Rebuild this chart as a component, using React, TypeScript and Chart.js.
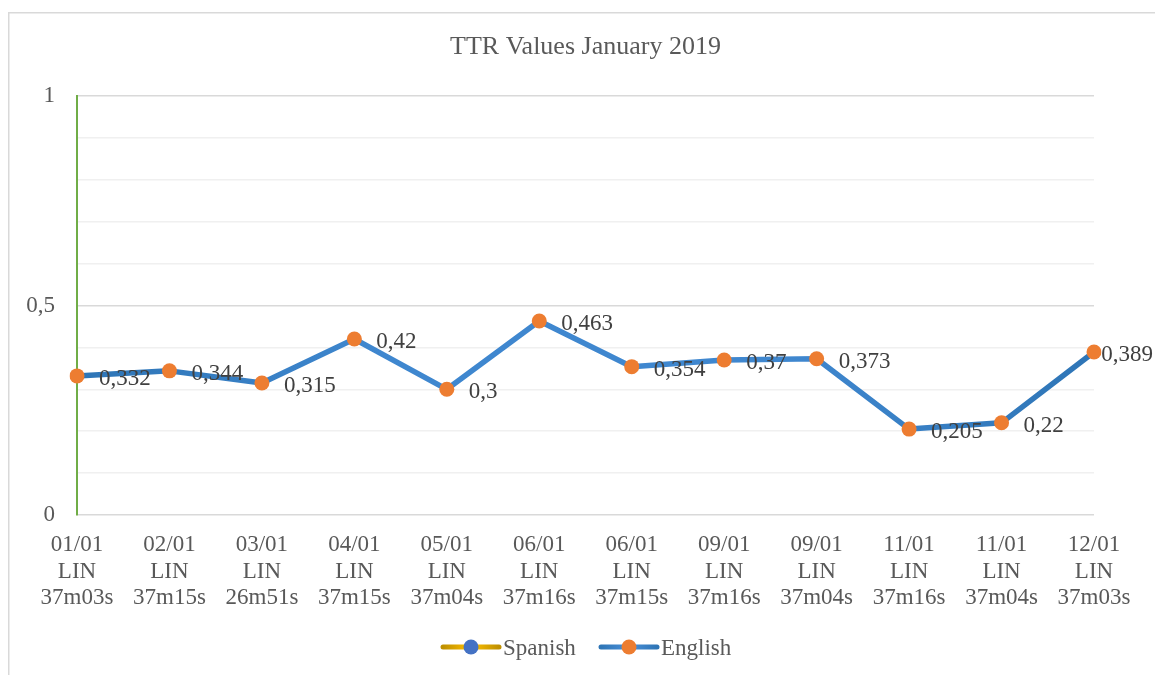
import React, { useEffect, useRef } from "react";
import { Chart, registerables } from "chart.js";

Chart.register(...registerables);

const dates = ["01/01", "02/01", "03/01", "04/01", "05/01", "06/01", "06/01", "09/01", "09/01", "11/01", "11/01", "12/01"];
const codes = ["LIN", "LIN", "LIN", "LIN", "LIN", "LIN", "LIN", "LIN", "LIN", "LIN", "LIN", "LIN"];
const durations = ["37m03s", "37m15s", "26m51s", "37m15s", "37m04s", "37m16s", "37m15s", "37m16s", "37m04s", "37m16s", "37m04s", "37m03s"];
const englishValues = [0.332, 0.344, 0.315, 0.42, 0.3, 0.463, 0.354, 0.37, 0.373, 0.205, 0.22, 0.389];
const spanishValues: (number | null)[] = [null, null, null, null, null, null, null, null, null, null, null, null];
const yLabelTicks = [0, 0.5, 1];
const titleText = "TTR Values January 2019";
const seriesNames = ["Spanish", "English"];

const FONT = '"Liberation Serif", "Times New Roman", serif';
const W = 1155;
const H = 675;

const fmt = (v: number) => String(Math.round(v * 1000) / 1000).replace(".", ",");

const decorPlugin = {
  id: "decor",
  beforeDraw(chart: any) {
    const ctx = chart.ctx;
    ctx.save();
    ctx.fillStyle = "#ffffff";
    ctx.fillRect(0, 0, W, H);
    ctx.strokeStyle = "#d9d9d9";
    ctx.lineWidth = 1.5;
    ctx.beginPath();
    ctx.moveTo(8.75, H);
    ctx.lineTo(8.75, 12.75);
    ctx.lineTo(W, 12.75);
    ctx.stroke();
    ctx.restore();
  },
  afterDraw(chart: any) {
    const ctx = chart.ctx;
    const area = chart.chartArea;
    ctx.save();
    // title
    ctx.fillStyle = "#595959";
    ctx.font = `26px ${FONT}`;
    ctx.textAlign = "center";
    ctx.textBaseline = "middle";
    ctx.fillText(titleText, (area.left + area.right) / 2, 47);

    // data labels
    const meta = chart.getDatasetMeta(1);
    ctx.font = `23px ${FONT}`;
    ctx.fillStyle = "#404040";
    ctx.textAlign = "left";
    ctx.textBaseline = "middle";
    meta.data.forEach((pt: any, i: number) => {
      const txt = fmt(englishValues[i]);
      const w = ctx.measureText(txt).width;
      const x = Math.min(pt.x + 22, W - 2 - w);
      ctx.fillText(txt, x, pt.y + 3);
    });

    // legend
    const ly = 647;
    const items = [
      { name: seriesNames[0], x0: 443, line: ["#BF9000", "#FFC000"], marker: "#4472C4" },
      { name: seriesNames[1], x0: 601, line: ["#2E75B6", "#4A90D9"], marker: "#ED7D31" },
    ];
    items.forEach((it) => {
      const g = ctx.createLinearGradient(it.x0, 0, it.x0 + 56, 0);
      g.addColorStop(0, it.line[0]);
      g.addColorStop(0.5, it.line[1]);
      g.addColorStop(1, it.line[0]);
      ctx.strokeStyle = g;
      ctx.lineWidth = 5;
      ctx.lineCap = "round";
      ctx.beginPath();
      ctx.moveTo(it.x0, ly);
      ctx.lineTo(it.x0 + 56, ly);
      ctx.stroke();
      ctx.fillStyle = it.marker;
      ctx.beginPath();
      ctx.arc(it.x0 + 28, ly, 7.5, 0, Math.PI * 2);
      ctx.fill();
      ctx.fillStyle = "#595959";
      ctx.font = `23px ${FONT}`;
      ctx.textAlign = "left";
      ctx.textBaseline = "middle";
      ctx.fillText(it.name, it.x0 + 60, ly + 2);
    });
    ctx.restore();
  },
};

export default function App() {
  const ref = useRef<HTMLCanvasElement | null>(null);
  useEffect(() => {
    if (!ref.current) return;
    const labels = dates.map((d, i) => [d, codes[i], durations[i]]);
    const chart = new Chart(ref.current, {
      type: "line",
      data: {
        labels,
        datasets: [
          {
            label: seriesNames[0],
            data: spanishValues,
            borderColor: "#BF9000",
            backgroundColor: "#4472C4",
            borderWidth: 5,
            pointRadius: 7.5,
          },
          {
            label: seriesNames[1],
            data: englishValues,
            borderColor: (c: any) => {
              const a = c.chart.chartArea;
              if (!a) return "#3780C4";
              const g = c.chart.ctx.createLinearGradient(a.left, 0, a.right, 0);
              g.addColorStop(0, "#2E75B6");
              g.addColorStop(0.3, "#3F87CF");
              g.addColorStop(0.7, "#3F87CF");
              g.addColorStop(1, "#2E75B6");
              return g;
            },
            backgroundColor: "#ED7D31",
            pointBackgroundColor: "#ED7D31",
            pointBorderColor: "#ED7D31",
            borderWidth: 5.5,
            pointRadius: 7.5,
            pointBorderWidth: 0,
            tension: 0,
            borderJoinStyle: "round",
            borderCapStyle: "round",
          },
        ],
      },
      options: {
        responsive: false,
        animation: false,
        devicePixelRatio: 1,
        layout: { padding: { left: 20, right: 61, top: 96, bottom: 50 } },
        plugins: {
          legend: { display: false },
          title: { display: false },
          tooltip: { enabled: false },
        },
        scales: {
          x: {
            type: "category",
            offset: false,
            grid: { display: false },
            border: { display: false },
            ticks: {
              autoSkip: false,
              maxRotation: 0,
              minRotation: 0,
              color: "#595959",
              padding: 9,
              font: { family: FONT, size: 23, lineHeight: 1.15 },
            },
            afterFit: (s: any) => {
              s.height = 110;
            },
          },
          y: {
            min: 0,
            max: 1,
            grid: {
              drawTicks: false,
              lineWidth: 1.5,
              color: (c: any) => {
                const v = Math.round((c.tick?.value ?? 0) * 10);
                return v % 5 === 0 ? "#d9d9d9" : "#f0f0f0";
              },
            },
            border: { display: true, color: "#70AD47", width: 2 },
            ticks: {
              stepSize: 0.1,
              padding: 22,
              color: "#595959",
              font: { family: FONT, size: 23 },
              callback: (v: any) => {
                const n = Number(v);
                return yLabelTicks.some((t) => Math.abs(t - n) < 1e-6) ? fmt(n) : "";
              },
            },
            afterFit: (s: any) => {
              s.width = 57;
            },
          },
        },
      },
      plugins: [decorPlugin],
    } as any);
    return () => chart.destroy();
  }, []);
  return (
    <div style={{ position: "fixed", left: 0, top: 0, width: W, height: H, background: "#fff" }}>
      <canvas ref={ref} width={W} height={H} style={{ width: W, height: H, display: "block" }} />
    </div>
  );
}
